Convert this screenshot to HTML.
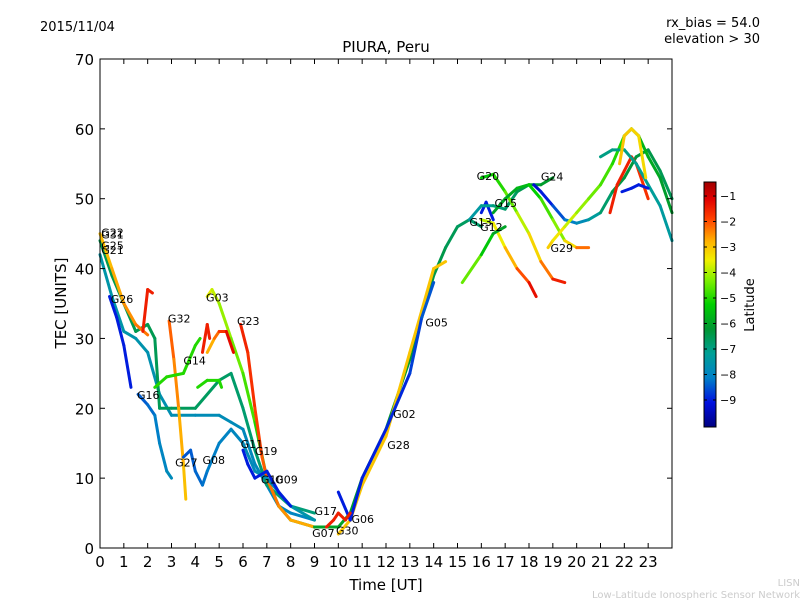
<!DOCTYPE html>
<html><head><meta charset="utf-8"><style>
body{margin:0;background:#fff;}
svg{display:block;font-family:"DejaVu Sans","Liberation Sans",sans-serif;}
</style></head><body>
<svg id="chart" width="800" height="600" viewBox="0 0 800 600">
<rect width="800" height="600" fill="#fff"/>
<text x="40" y="31" font-size="13">2015/11/04</text>
<text x="760" y="27" font-size="13" text-anchor="end">rx_bias = 54.0</text>
<text x="760" y="43" font-size="13" text-anchor="end">elevation &gt; 30</text>
<text x="386" y="52" font-size="15" text-anchor="middle">PIURA, Peru</text>
<g id="plot"></g>
<text x="386" y="590" font-size="15" text-anchor="middle">Time [UT]</text>
<text x="66" y="303" font-size="15" text-anchor="middle" transform="rotate(-90 66 303)">TEC [UNITS]</text>
<g id="cbar"></g>
<text x="754" y="305" font-size="13" text-anchor="middle" transform="rotate(-90 754 305)">Latitude</text>
<text x="800" y="586" font-size="10" fill="#ccc" text-anchor="end">LISN</text>
<text x="800" y="598" font-size="10" fill="#ccc" text-anchor="end">Low-Latitude Ionospheric Sensor Network</text>
</svg>
<script>
const xTicks=[0,1,2,3,4,5,6,7,8,9,10,11,12,13,14,15,16,17,18,19,20,21,22,23];
const yTicks=[0,10,20,30,40,50,60,70];
const cbTicks=[-1,-2,-3,-4,-5,-6,-7,-8,-9];
// tracks: time (UT hours), tec, latitude per point
const trackTimes=[
[0,0.5,1,1.5,2,2.5,3,4,5,5.5,6,6.5,7,7.5,8,9],
[0,0.5,1,1.5,2,2.3,2.5,3,4,5,5.5,6,6.5,7,8,9],
[0,0.5,1,1.5,2],
[1.8,2,2.2],
[2.9,3.1,3.3,3.5,3.6],
[2.3,2.8,3.5,4,4.2],
[4.5,4.7,5,5.5,6,6.5,7,7.5,8,9],
[4.5,4.8,5,5.3,5.6],
[4.3,4.5,4.6],
[5.9,6.2,6.5,6.8,7,7.5,8,9,10],
[0.4,0.7,1,1.3],
[1.6,2,2.3,2.5,2.8,3],
[3.5,3.8,4,4.3,4.5,5,5.5,6,6.5,7,7.5,8,9],
[6,6.2,6.5,7,7.5,8],
[4.1,4.5,5,5.1],
[9,10,10.5,11,12,13,13.5,14,14.5,15,15.5,16],
[10,10.5,11,12,12.5,13,13.5,14,14.5],
[10,10.5,11,12,13,13.5,14],
[9.5,9.8,10,10.3,10.5],
[16,16.2,16.5],
[15.5,16,16.5,17,17.5,18,18.5,19],
[16,16.5,17,17.5,18,18.5,19,19.5],
[16,16.5,17,17.5,18,18.3],
[15.2,16,16.5,17],
[16.5,17,17.5,18,18.5,19,19.5,20,20.5],
[18.2,18.5,19,19.5,20,20.5,21,21.5,22,22.5,23,23.5,24],
[18.8,19,19.5,20,20.5,21,21.5,22,22.3,22.6,23,23.5,24],
[21.4,21.7,22,22.3,22.5,23],
[21,21.5,22,22.5,23,23.5,24],
[21.8,22,22.3,22.6,22.9],
[21.9,22.3,22.6,23]
];
const trackTec=[
[42,36,31,30,28,22,19,19,19,18,17,12,9,6,5,4],
[44,39,35,31,32,30,20,20,20,24,25,20,14,9,6,5],
[45,40,35,32,30.5],
[31,37,36.5],
[32.5,27,20,12,7],
[23,24.5,25,29,30],
[36,37,35,30,25,18,10,6,4,3],
[28,30,31,31,28],
[28,32,30],
[32,28,20,13,10,6,4,3,3],
[36,33,29,23],
[22,20.5,19,15,11,10],
[13,14,11,9,11,15,17,15,11,10,8,6,4],
[14,12,10,11,8,6],
[23,24,24,23],
[3,3,5,10,17,27,33,39,43,46,47,46],
[2,4,9,16,22,28,34,40,41],
[8,4,10,17,25,33,38],
[3,4,5,4,5],
[48,49.5,47],
[47,49,49,48.5,51,52,52,53],
[53,53.5,51,48,45,41,38.5,38],
[47,46.5,43,40,38,36],
[38,42,45,46],
[48,50,51.5,52,50,47,44,43,43],
[52,51,49,47,46.5,47,48,51,53,56,57,54,50],
[43,44,46,48,50,52,55,59,60,59,56,53,48],
[48,52,54,56,55,50],
[56,57,57,55,52,49,44],
[55,59,60,59,53],
[51,51.5,52,51.5]
];
const trackLat=[
[-7.5,-7.5,-7.5,-7.6,-7.6,-7.7,-7.7,-7.8,-7.8,-7.8,-7.9,-7.9,-8,-8,-8,-8],
[-6.5,-6.5,-6.5,-6.5,-6.5,-6.5,-6.6,-6.6,-6.6,-6.7,-6.7,-6.8,-6.8,-6.8,-6.9,-6.9],
[-3,-2.8,-2.6,-2.4,-2.2],
[-1.5,-1.5,-1.5],
[-2,-2.3,-2.6,-2.9,-3],
[-5,-5,-5,-5,-5],
[-3.5,-3.7,-4,-4.3,-4.6,-4.9,-5.2,-5.5,-5.8,-6],
[-3,-2.5,-2,-1.5,-1],
[-1.5,-1.5,-1.5],
[-1.5,-1.6,-1.8,-2,-2.2,-2.4,-2.6,-2.8,-3],
[-9,-9,-9,-9],
[-8.5,-8.4,-8.2,-8.1,-7.9,-7.8],
[-8.5,-8.5,-8.4,-8.3,-8.2,-8.1,-8,-7.9,-7.8,-7.8,-7.7,-7.6,-7.5],
[-9,-9,-9,-9,-9,-9],
[-5,-5,-5,-5],
[-6,-6,-6,-6,-6.1,-6.2,-6.3,-6.4,-6.5,-6.6,-6.7,-6.8],
[-3,-3,-3,-3,-3,-3,-3,-3,-3],
[-9,-9,-9,-9,-8.8,-8.6,-8.4],
[-1.5,-1.5,-1.5,-1.5,-1.5],
[-9,-9,-9],
[-7.5,-7.3,-7,-6.8,-6.6,-6.4,-6.2,-6],
[-5.5,-5.2,-4.8,-4.2,-3.6,-2.8,-1.8,-1.2],
[-4,-3.8,-3.2,-2.4,-1.6,-1],
[-4,-5,-5.8,-6.2],
[-6,-6,-5.8,-5.5,-5,-4.5,-4,-2.5,-2],
[-9.3,-9.2,-8.8,-8.3,-8,-7.6,-7,-6.5,-6.3,-6.3,-6.4,-6.5,-6.6],
[-3,-3.2,-3.6,-4,-4.3,-4.6,-4.9,-5.2,-5.4,-5.6,-5.8,-6,-6.2],
[-1.5,-1.5,-1.5,-1.5,-1.6,-1.8],
[-7,-7,-7,-7.1,-7.2,-7.3,-7.4],
[-3,-3,-3.1,-3.2,-3.3],
[-9,-9,-9,-9]
];
const labelNames=["G22","G31","G25","G21","G26","G32","G03","G23","G14","G16","G27","G08","G11","G19","G10","G09","G17","G07","G30","G06","G02","G28","G05","G13","G12","G20","G15","G24","G29"];
const labelT=[0.05,0.05,0.05,0.05,0.45,2.85,4.45,5.75,3.5,1.55,3.15,4.3,5.9,6.5,6.75,7.35,9.0,8.9,9.9,10.55,12.3,12.05,13.65,15.5,15.95,15.8,16.55,18.5,18.9];
const labelTec=[44.6,44.3,42.7,42.1,35.1,32.3,35.3,31.9,26.3,21.3,11.7,12.0,14.3,13.3,9.2,9.2,4.7,1.6,1.9,3.6,18.6,14.2,31.7,46.1,45.4,52.7,48.8,52.6,42.4];
const NS="http://www.w3.org/2000/svg";
const X0=100,X1=672,Y0=548,Y1=59;
const xs=t=>X0+(X1-X0)*t/24;
const ys=v=>Y0-(Y0-Y1)*v/70;
const VMIN=-10.06,VMAX=-0.45;
const CSTOPS=[[0,[0,0,128]],[0.1,[0,16,224]],[0.2,[0,128,200]],[0.3,[0,160,150]],[0.4,[0,150,50]],[0.5,[0,208,0]],[0.6,[128,240,0]],[0.68,[240,240,0]],[0.76,[255,176,0]],[0.85,[255,64,0]],[0.93,[224,0,0]],[1,[160,0,0]]];
function jet(v){let f=(v-VMIN)/(VMAX-VMIN);f=Math.max(0,Math.min(1,f));
 for(let i=0;i<CSTOPS.length-1;i++){const a=CSTOPS[i],b=CSTOPS[i+1];
  if(f<=b[0]){const r=(f-a[0])/(b[0]-a[0]);const c=a[1].map((x,k)=>Math.round(x+(b[1][k]-x)*r));return `rgb(${c[0]},${c[1]},${c[2]})`;}}
 return 'rgb(160,0,0)';}
function mk(tag,attrs,parent){const e=document.createElementNS(NS,tag);for(const k in attrs)e.setAttribute(k,attrs[k]);parent.appendChild(e);return e;}
const plot=document.getElementById('plot');
mk('rect',{x:X0,y:Y1,width:X1-X0,height:Y0-Y1,fill:'#fff',stroke:'none'},plot);
trackTimes.forEach((ts,i)=>{
 const g=mk('g',{},plot);
 
 
 for(let j=0;j<ts.length-1;j++){
  const l=mk('line',{x1:xs(ts[j]),y1:ys(trackTec[i][j]),x2:xs(ts[j+1]),y2:ys(trackTec[i][j+1]),stroke:jet((trackLat[i][j]+trackLat[i][j+1])/2),'stroke-width':3,'stroke-linecap':'round'},g);
  
  
 }
});
labelNames.forEach((n,i)=>{
 const t=mk('text',{x:xs(labelT[i]),y:ys(labelTec[i]),'font-size':11},plot);
 t.textContent=n;
 
 
});
mk('rect',{x:X0,y:Y1,width:X1-X0,height:Y0-Y1,fill:'none',stroke:'#000','stroke-width':1},plot);
xTicks.forEach(v=>{
 const x=xs(v);
 mk('line',{x1:x,y1:Y0,x2:x,y2:Y0-5,stroke:'#000'},plot);
 mk('line',{x1:x,y1:Y1,x2:x,y2:Y1+5,stroke:'#000'},plot);
 const t=mk('text',{x:x,y:Y0+19,'font-size':15,'text-anchor':'middle'},plot);
 t.textContent=v;
 
 
});
yTicks.forEach(v=>{
 const y=ys(v);
 mk('line',{x1:X0,y1:y,x2:X0+5,y2:y,stroke:'#000'},plot);
 mk('line',{x1:X1,y1:y,x2:X1-5,y2:y,stroke:'#000'},plot);
 const t=mk('text',{x:X0-6,y:y+6,'font-size':15,'text-anchor':'end'},plot);
 t.textContent=v;
 
 
});
const cb=document.getElementById('cbar');
const CX=704,CW=12,CT=182,CB=427;
for(let i=0;i<CB-CT;i++){
 const v=VMAX-(VMAX-VMIN)*(i+0.5)/(CB-CT);
 mk('rect',{x:CX,y:CT+i,width:CW,height:1.2,fill:jet(v)},cb);
}
mk('rect',{x:CX,y:CT,width:CW,height:CB-CT,fill:'none',stroke:'#000'},cb);
cbTicks.forEach(v=>{
 const y=CT+(VMAX-v)/(VMAX-VMIN)*(CB-CT);
 mk('line',{x1:CX,y1:y,x2:CX+3,y2:y,stroke:'#000'},cb);
 mk('line',{x1:CX+CW,y1:y,x2:CX+CW-3,y2:y,stroke:'#000'},cb);
 const t=mk('text',{x:CX+CW+4,y:y+4,'font-size':11},cb);
 t.textContent='\u2212'+Math.abs(v);
 
 
});
</script>
</body></html>
